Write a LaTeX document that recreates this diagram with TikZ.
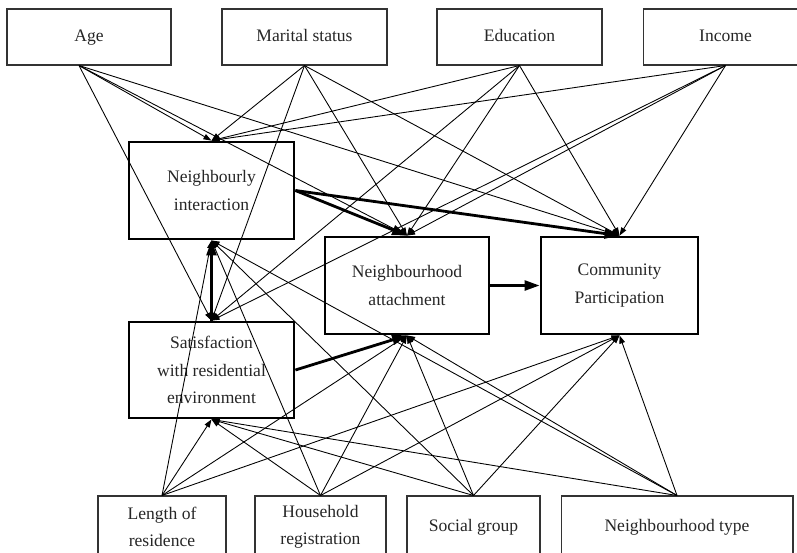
\documentclass[tikz,border=0pt]{standalone}
\usepackage{fontspec}
\setmainfont{Liberation Serif}
\usetikzlibrary{arrows.meta}

\tikzset{
    varbox/.style={draw=black!80, line width=0.6pt, inner sep=0pt, align=center,
        text=black!85, font=\fontsize{10}{15.5}\selectfont},
    onebox/.style={varbox, text height=1.6ex, text depth=0.45ex},
    medbox/.style={draw=black, line width=1.6pt, inner sep=0pt, align=center,
        text=black!85, font=\fontsize{10}{15.5}\selectfont,
        minimum height=1.94cm},
    lnk/.style={-{Triangle[length=4.6pt,width=3.2pt]}, line width=0.5pt},
    mainlnk/.style={-{Triangle[length=8.5pt,width=5.6pt]}, line width=1.6pt}
}

\begin{document}
\begin{tikzpicture}[x=0.02cm, y=-0.02cm]
    \clip (0,0) rectangle (797,552);

    % Background variables (top)
    \node[onebox, minimum width=3.28cm, minimum height=1.12cm] (age) at (89,37) {Age};
    \node[onebox, minimum width=3.3cm, minimum height=1.12cm] (marital) at (304.5,37) {Marital status};
    \node[onebox, minimum width=3.3cm, minimum height=1.12cm] (edu) at (519.5,37) {Education};
    \node[onebox, minimum width=3.3cm, minimum height=1.12cm] (income) at (725.5,37) {Income};

    % Mediators and outcome
    \node[medbox, minimum width=3.3cm] (nbi) at (211.5,190.5) {Neighbourly\\interaction};
    \node[medbox, minimum width=3.3cm, minimum height=1.92cm] (sat) at (211.5,370) {Satisfaction\\with residential\\environment};
    \node[medbox, minimum width=3.28cm] (att) at (407,285.5) {Neighbourhood\\attachment};
    \node[medbox, minimum width=3.14cm] (cp) at (619.5,285.5) {Community\\Participation};

    % Background variables (bottom)
    \node[varbox, minimum width=2.56cm, minimum height=1.24cm] (len) at (162,527) {Length of\\residence};
    \node[varbox, minimum width=2.62cm, minimum height=1.24cm] (hh) at (320.5,527) {Household\\registration};
    \node[onebox, minimum width=2.66cm, minimum height=1.24cm] (soc) at (473.5,527) {Social group};
    \node[onebox, minimum width=4.64cm, minimum height=1.24cm] (ntype) at (677,527) {Neighbourhood type};

    % Thin paths from top variables
    \foreach \t in {nbi, sat, att, cp} {
        \draw[lnk] ([xshift=-0.2cm]age.south) -- (\t.north);
        \foreach \s in {marital, edu, income}
            \draw[lnk] (\s.south) -- (\t.north);
    }

    % Thin paths from bottom variables
    \foreach \s in {len, hh, soc, ntype}
        \foreach \t in {nbi, sat, att, cp}
            \draw[lnk] (\s.north) -- (\t.south);

    % Main paths
    \draw[mainlnk, {Triangle[length=8.5pt,width=5.6pt]}-] (nbi.south) -- (sat.north);
    \draw[mainlnk] (nbi.east) -- (att.north);
    \draw[mainlnk] (nbi.east) -- (cp.north);
    \draw[mainlnk] (sat.east) -- (att.south);
    \draw[mainlnk] (att.east) -- (cp.west);
\end{tikzpicture}
\end{document}
